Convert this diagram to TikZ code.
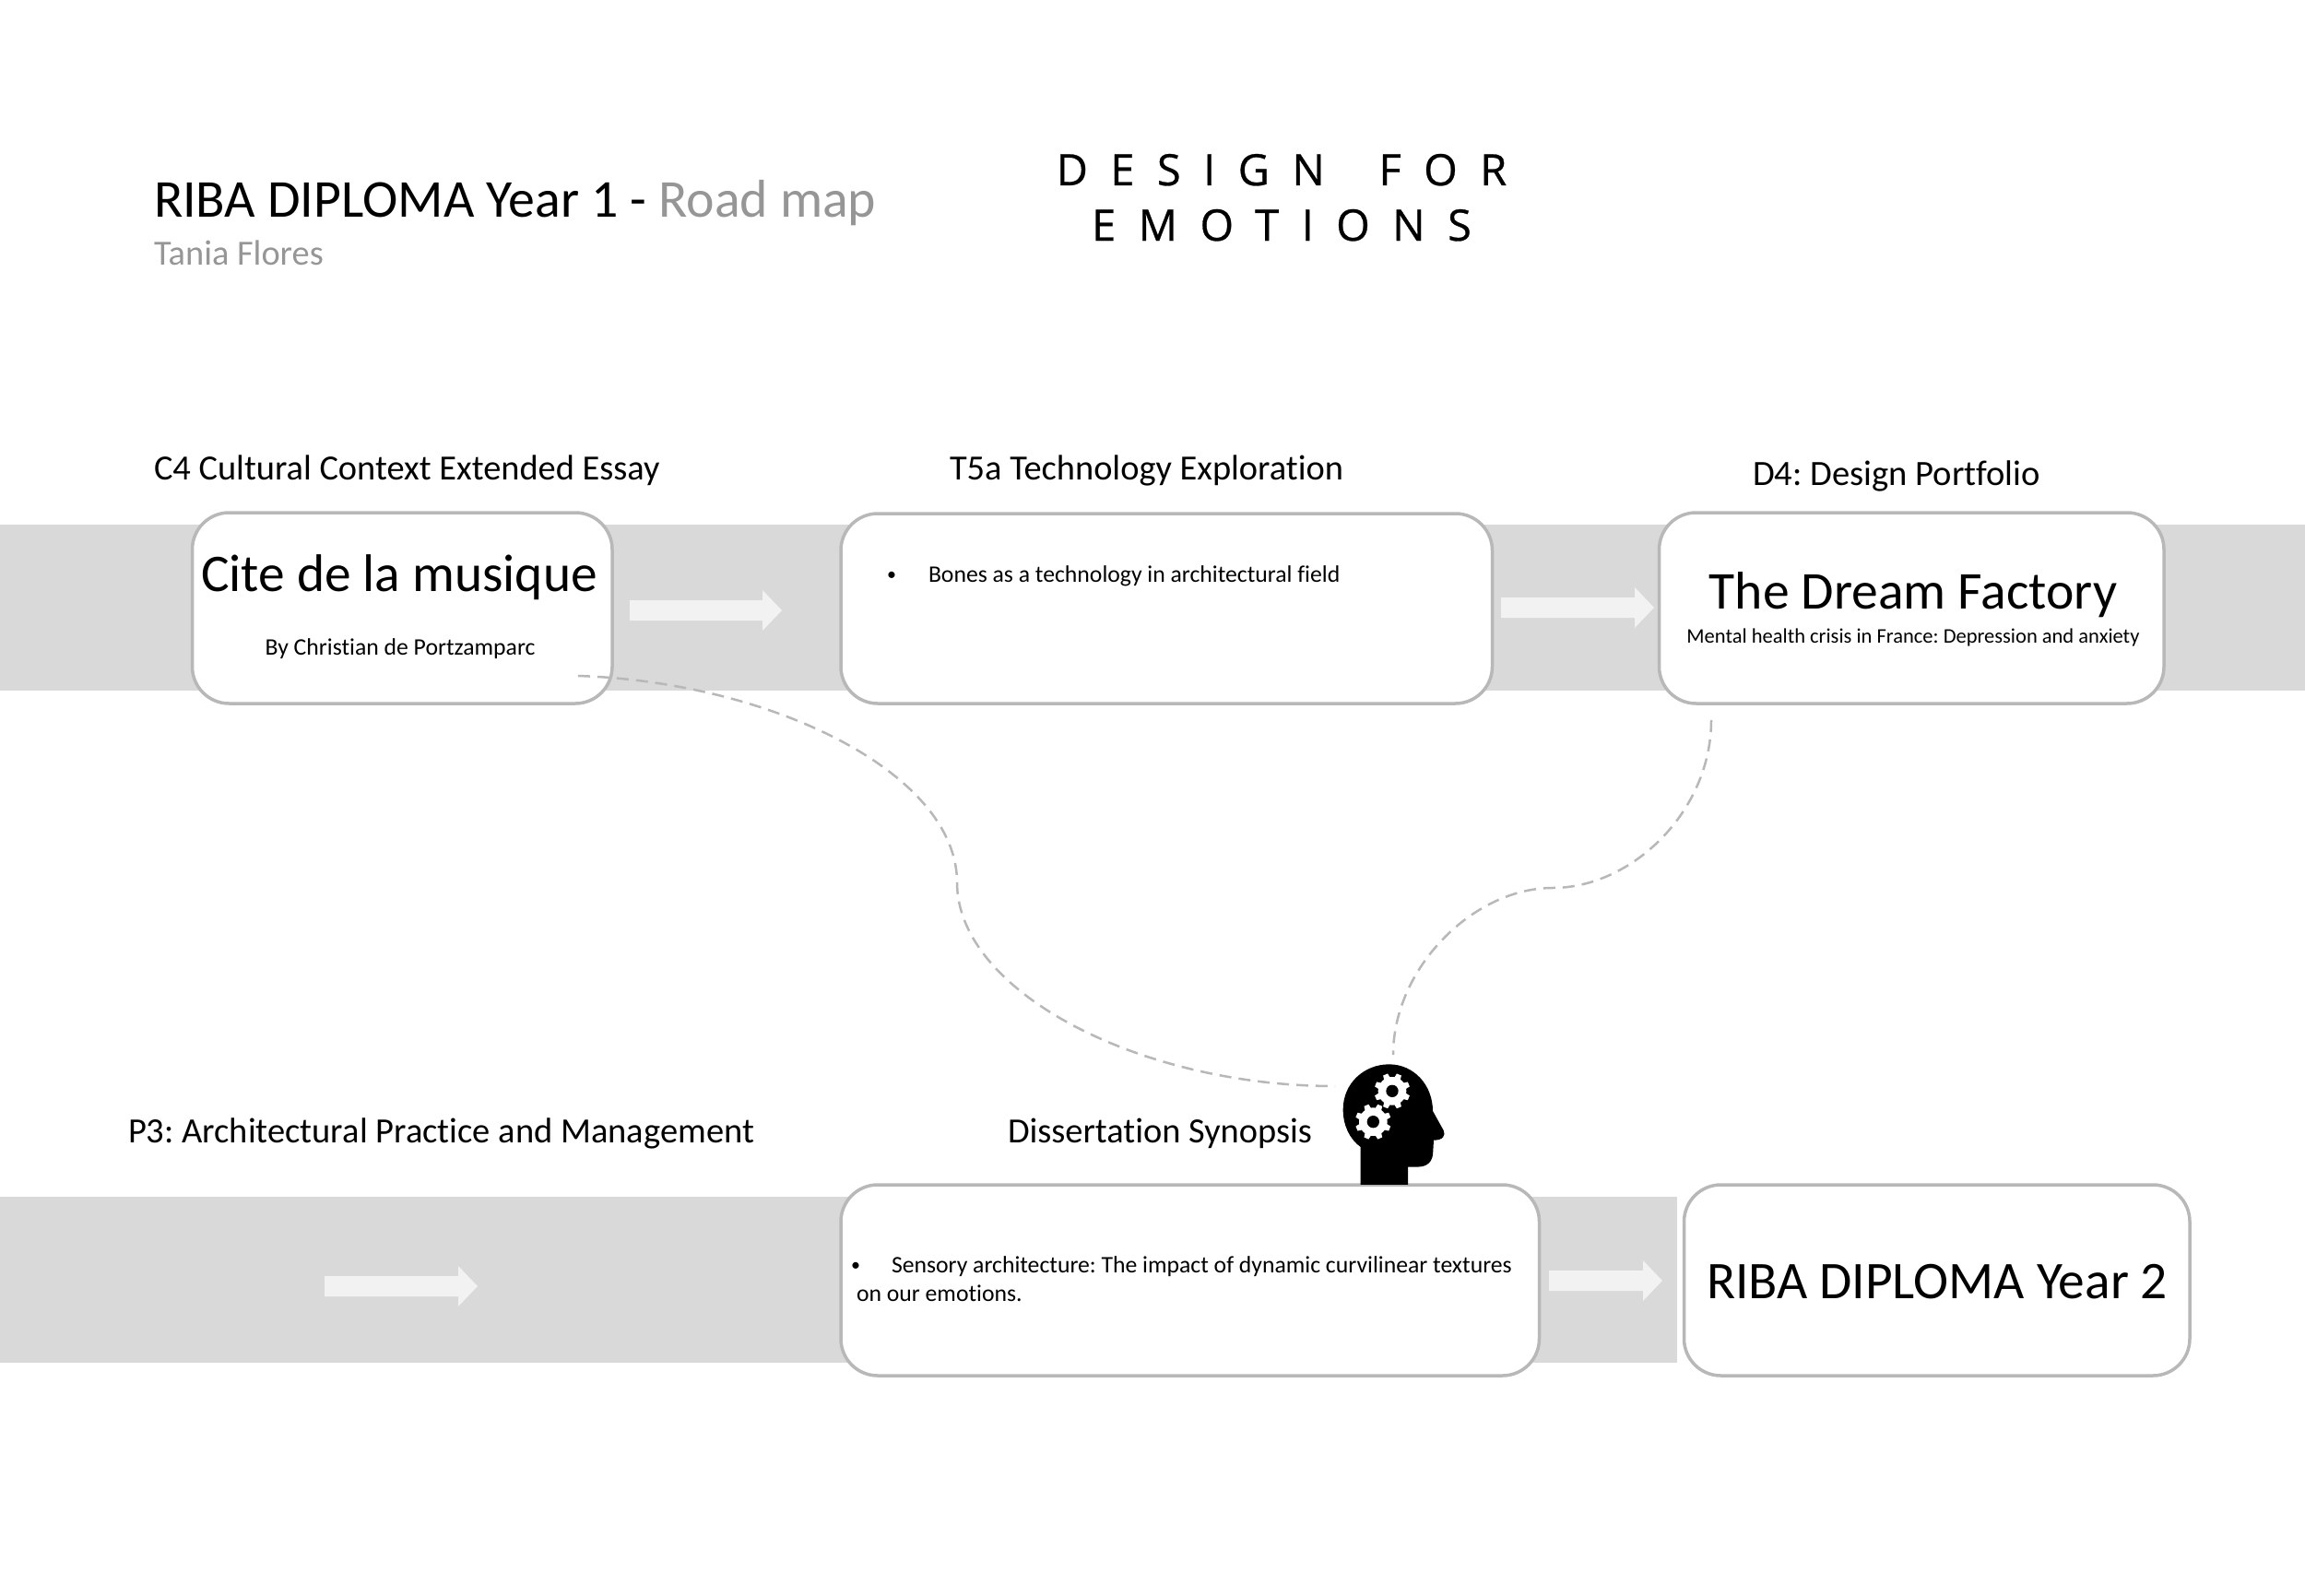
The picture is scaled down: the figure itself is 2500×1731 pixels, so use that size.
\documentclass[tikz,border=0pt]{standalone}
\usepackage{fontspec}
\setmainfont{Carlito}[Ligatures=NoCommon]
\newfontfamily\handfont[LetterSpace=52,FakeBold=0.6]{Open Sans}
\newcommand{\fs}[1]{\fontsize{#1}{#1}\selectfont}
\definecolor{bandgrey}{HTML}{D9D9D9}
\definecolor{boxline}{HTML}{B8B8B8}
\definecolor{softarrow}{HTML}{F2F2F2}
\definecolor{softtext}{HTML}{969696}
\tikzset{
  x=1pt,y=-1pt,
  band/.style={fill=bandgrey,draw=none},
  card/.style={draw=boxline,line width=3.5pt,fill=white,rounded corners=40pt},
  softarr/.style={fill=softarrow,draw=none},
  lnk/.style={draw=boxline,line width=2.5pt,dash pattern=on 13pt off 8pt},
  txt/.style={inner sep=0pt,outer sep=0pt,anchor=base west,text=black},
  txtc/.style={inner sep=0pt,outer sep=0pt,anchor=base,text=black},
}
\begin{document}
\frenchspacing
\begin{tikzpicture}
\useasboundingbox (0,0) rectangle (2500,1731);
\fill[white] (0,0) rectangle (2500,1731);
% bands
\fill[band] (0,569) rectangle (2500,749);
\fill[band] (0,1298) rectangle (1819,1478);
% cards
\draw[card] (208.5,556) rectangle (664,763);
\draw[card] (912,557) rectangle (1618.5,763);
\draw[card] (1799.5,556) rectangle (2347,763);
\draw[card] (912,1285) rectangle (1669.5,1492);
\draw[card] (1826.5,1285) rectangle (2375,1492);
% block arrows
\foreach \xa/\xb/\yc in {683/848/662, 1628/1794/659, 352/518/1395, 1680/1803/1389}{
  \fill[softarr] (\xa,\yc-11) -- (\xb-21,\yc-11) -- (\xb-21,\yc-22) -- (\xb,\yc) -- (\xb-21,\yc+22) -- (\xb-21,\yc+11) -- (\xa,\yc+11) -- cycle;
}
% connectors
\coordinate (c1s) at (627,733);
\coordinate (c1m) at (1038,957);
\coordinate (c1e) at (1448,1178);
\coordinate (c2s) at (1856,781);
\coordinate (c2m) at (1684,963);
\coordinate (c2e) at (1511,1144);
\draw[lnk] (c1s) .. controls (840,740) and (1038,840) .. (c1m) .. controls (1038,1075) and (1235,1178) .. (c1e);
\draw[lnk] (c2s) .. controls (1856,880) and (1770,963) .. (c2m) .. controls (1598,963) and (1511,1050) .. (c2e);
% head
\begin{scope}[shift={(1400,1120)},x=0.3333pt,y=-0.3333pt]
\fill[black] (227,495) -- (227,372) .. controls (190,345) and (170,300) .. (170,250)
  .. controls (170,165) and (238,103) .. (320,103)
  .. controls (400,103) and (462,170) .. (462,255)
  -- (497,318) .. controls (505,335) and (495,350) .. (465,350)
  -- (463,385) .. controls (463,420) and (445,437) .. (410,437)
  -- (381,437) -- (381,495) -- cycle;
\foreach \cx/\cy in {330/190, 268/290}{
  \fill[white] (\cx,\cy) circle (46);
  \foreach \a in {0,45,...,315}{
    \fill[white,rotate around={\a+22.5:(\cx,\cy)}] (\cx-11,\cy-40) -- (\cx-8,\cy-58) -- (\cx+8,\cy-58) -- (\cx+11,\cy-40) -- cycle;
  }
  \fill[black] (\cx,\cy) circle (20);
}
\end{scope}
% texts
\node[txt,font=\fs{57.8}] (title) at (167,236) {RIBA DIPLOMA Year 1 - \textcolor{softtext}{Road map}};
\node[txt,font=\fs{38.4},text=softtext] (author) at (167,287) {Tania Flores};
\node[txtc,font=\handfont\fs{47}] (hand1) at (1390,201) {DESIGN \hspace{22pt}FOR};
\node[txtc,font=\handfont\fs{47}] (hand2) at (1390,261) {EMOTIONS};
\node[txt,font=\fs{38.4}] (h1) at (167,520) {C4 Cultural Context Extended Essay};
\node[txt,font=\fs{38.4}] (h2) at (1030,520) {T5a Technology Exploration};
\node[txt,font=\fs{38.6}] (h3) at (1901,526) {D4: Design Portfolio};
\node[txt,font=\fs{38.5}] (h4) at (139,1239) {P3: Architectural Practice and Management};
\node[txt,font=\fs{38.4}] (h5) at (1093,1239) {Dissertation Synopsis};
\node[txtc,font=\fs{57.4}] (t1) at (433,641) {Cite de la musique};
\node[txtc,font=\fs{25.7}] (t1b) at (434,710) {By Christian de Portzamparc};
\node[txt,font=\fs{20}] (b2) at (962,629) {•};
\node[txt,font=\fs{25.7}] (t2) at (1007,631) {Bones as a technology in architectural field};
\node[txtc,font=\fs{57.6}] (t3) at (2075,660) {The Dream Factory};
\node[txtc,font=\fs{22.5}] (t3b) at (2075,697) {Mental health crisis in France: Depression and anxiety};
\node[txt,font=\fs{20}] (b4) at (923,1378) {•};
\node[txt,font=\fs{25.7}] (t4) at (967,1380) {Sensory architecture: The impact of dynamic curvilinear textures};
\node[txt,font=\fs{25.7}] (t4b) at (929,1411) {on our emotions.};
\node[txtc,font=\fs{57.4}] (t5) at (2101,1408) {RIBA DIPLOMA Year 2};
\end{tikzpicture}
\end{document}
